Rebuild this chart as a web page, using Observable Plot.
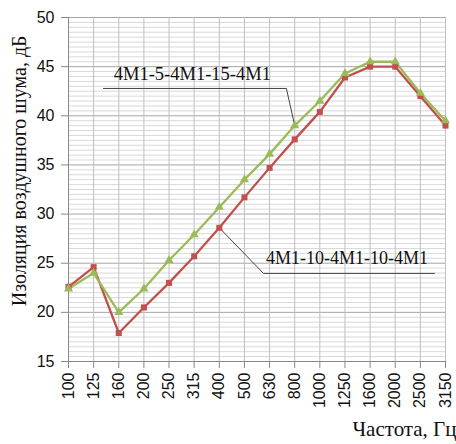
<!DOCTYPE html>
<html><head><meta charset="utf-8">
<script src="https://cdn.jsdelivr.net/npm/d3@7"></script>
<script src="https://cdn.jsdelivr.net/npm/@observablehq/plot@0.6"></script>
<style>body{margin:0;background:#fff}</style>
</head><body><div id="chart"></div>
<script>
const freqs = ["100","125","160","200","250","315","400","500","630","800","1000","1250","1600","2000","2500","3150"];
const redSeries = [22.6,24.6,17.9,20.5,23.0,25.7,28.6,31.7,34.7,37.6,40.4,43.9,45.0,45.0,42.0,39.0];
const greenSeries = [22.4,24.0,20.0,22.4,25.3,27.9,30.7,33.5,36.1,39.0,41.5,44.3,45.5,45.5,42.3,39.5];
const redName = "4M1-10-4M1-10-4M1";
const greenName = "4M1-5-4M1-15-4M1";
const yTicks = [15,20,25,30,35,40,45,50];

const red = redSeries.map((v,i)=>({i, v}));
const green = greenSeries.map((v,i)=>({i, v}));
const minor = d3.range(15, 50.01, 0.5);
const idx = freqs.map((f,i)=>i);

const serif = "Liberation Serif";
const chart = Plot.plot({
  width: 456, height: 444,
  marginLeft: 68, marginRight: 11, marginTop: 17, marginBottom: 83,
  style: {fontFamily: "Liberation Sans, Arial, sans-serif", background: "#fff", overflow: "visible"},
  x: {type: "linear", domain: [0, 15]},
  y: {domain: [15, 50]},
  marks: [
    Plot.ruleY(minor.filter(v => v % 5 !== 0), {stroke: "#d9d9d9", strokeWidth: 1}),
    Plot.ruleY(yTicks, {stroke: "#a6a6a6", strokeWidth: 1}),
    Plot.ruleX(idx, {stroke: "#bfbfbf", strokeWidth: 1}),
    Plot.axisY({ticks: yTicks, tickSize: 7, tickPadding: 7, stroke: "#888", fill: "#111", fontSize: 16, label: null}),
    Plot.axisX({ticks: idx, tickFormat: i => freqs[i], tickSize: 7, tickPadding: 4, tickRotate: -90, stroke: "#888", fill: "#111", fontSize: 16, label: null}),
    Plot.ruleY([15], {stroke: "#888"}),
    Plot.ruleX([0], {stroke: "#888"}),
    // annotation leaders
    Plot.line([{x:1.39,y:42.78},{x:8.67,y:42.78},{x:9.0,y:39.0}], {x:"x", y:"y", stroke:"#444", strokeWidth:1}),
    Plot.line([{x:14.56,y:23.96},{x:7.76,y:23.96},{x:6.0,y:28.6}], {x:"x", y:"y", stroke:"#444", strokeWidth:1}),
    Plot.line(red, {x:"i", y:"v", stroke:"#c0504d", strokeWidth:2.3}),
    Plot.line(green, {x:"i", y:"v", stroke:"#9bbb59", strokeWidth:2.3}),
    Plot.dot(red, {x:"i", y:"v", symbol:"square", r:3.4, fill:"#c0504d", stroke:"none"}),
    Plot.dot(green, {x:"i", y:"v", symbol:"triangle", r:3.4, fill:"#9bbb59", stroke:"none"}),
    Plot.text([greenName], {x: 1.8, y: 43.6, text: d=>d, textAnchor:"start", lineAnchor:"bottom", fontFamily: serif, fontSize: 18.5, fill:"#111"}),
    Plot.text([redName], {x: 7.86, y: 24.97, text: d=>d, textAnchor:"start", lineAnchor:"bottom", fontFamily: serif, fontSize: 18, fill:"#111"}),
    Plot.text(["Изоляция воздушного шума, дБ"], {x: 0, y: 34.4, dx: -49, rotate: -90, textAnchor: "middle", lineAnchor: "middle", text: d=>d, fontFamily: serif, fontSize: 20, fill:"#111"}),
    Plot.text(["Частота, Гц"], {frameAnchor:"bottom-right", dx: 11, dy: 74, textAnchor:"end", text: d=>d, fontFamily: serif, fontSize: 21, fill:"#111"})
  ]
});
document.getElementById("chart").appendChild(chart);
</script></body></html>
